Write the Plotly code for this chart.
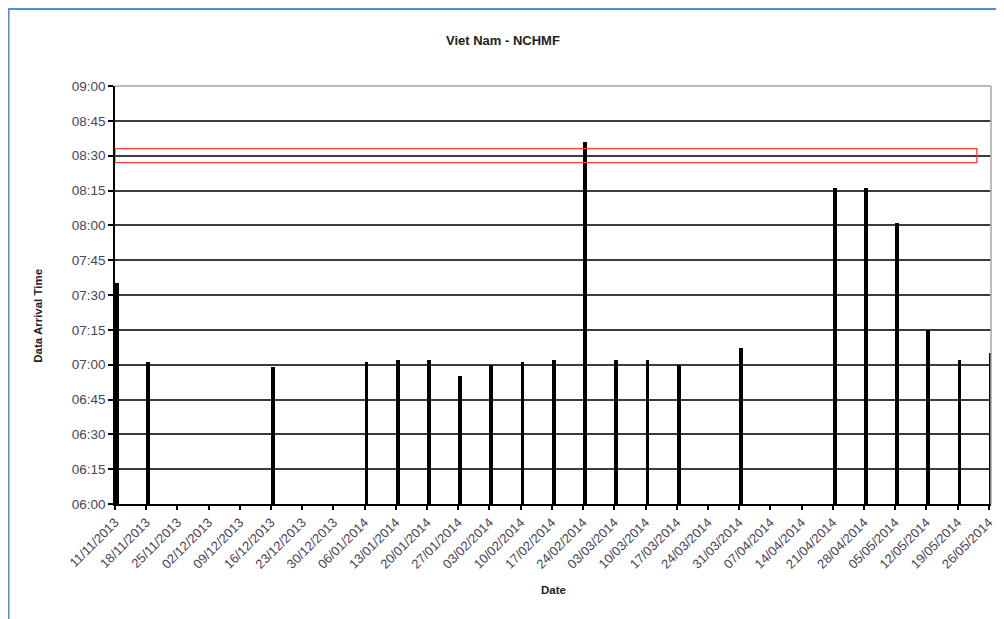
import plotly.graph_objects as go

# ---- data ----
dates = ["2013-11-11", "2013-11-18", "2013-12-16", "2014-01-06", "2014-01-13",
         "2014-01-20", "2014-01-27", "2014-02-03", "2014-02-10", "2014-02-17",
         "2014-02-24", "2014-03-03", "2014-03-10", "2014-03-17", "2014-03-31",
         "2014-04-21", "2014-04-28", "2014-05-05", "2014-05-12", "2014-05-19",
         "2014-05-26"]
arrival_times = ["07:35", "07:01", "06:59", "07:01", "07:02",
                 "07:02", "06:55", "07:00", "07:01", "07:02",
                 "08:36", "07:02", "07:02", "07:00", "07:07",
                 "08:16", "08:16", "08:01", "07:15", "07:02",
                 "07:05"]
y_tick_labels = ["06:00", "06:15", "06:30", "06:45", "07:00", "07:15", "07:30",
                 "07:45", "08:00", "08:15", "08:30", "08:45", "09:00"]
x_start, x_end = "2013-11-11", "2014-05-26 12:00"
target_band = ("08:27", "08:33")
target_band_end = "2014-05-23 08:00"

def to_hours(t):
    h, m = t.split(":")
    return int(h) + int(m) / 60.0

base_h = 6.0
hours = [to_hours(t) for t in arrival_times]
y_tick_vals = [to_hours(t) for t in y_tick_labels]
DAY_MS = 86400000

FONT = "Liberation Sans, Arial, sans-serif"

fig = go.Figure()
fig.add_trace(go.Bar(
    x=dates, y=[h - base_h for h in hours], base=base_h,
    width=0.85 * DAY_MS, offset=0,
    marker=dict(color="black", line=dict(width=0)),
    hovertext=arrival_times, hoverinfo="x+text",
))

shapes = [
    # target band rectangle
    dict(type="rect", xref="x", yref="y", x0=x_start, x1=target_band_end,
         y0=to_hours(target_band[0]), y1=to_hours(target_band[1]),
         line=dict(color="#ff3b3b", width=1.3), fillcolor="rgba(0,0,0,0)", layer="above"),
    # light top/right plot border
    dict(type="line", xref="paper", yref="paper", x0=0, x1=1, y0=1, y1=1,
         line=dict(color="#a6a6a6", width=1.5)),
    dict(type="line", xref="paper", yref="paper", x0=1, x1=1, y0=0, y1=1,
         line=dict(color="#a6a6a6", width=1.5)),
    # outer blue frame
    dict(type="rect", xref="paper", yref="paper", x0=-0.1215, x1=1.2, y0=-0.5, y1=1.184,
         line=dict(color="#5a8ad0", width=2), fillcolor="rgba(0,0,0,0)", layer="below"),
]

fig.update_layout(
    width=1004, height=619,
    margin=dict(l=107, r=21, t=78, b=123),
    paper_bgcolor="white", plot_bgcolor="white",
    showlegend=False, bargap=0,
    font=dict(family=FONT, size=12, color="#3a3a44"),
    shapes=shapes,
    annotations=[
        dict(text="<b>Viet Nam - NCHMF</b>", xref="paper", yref="paper",
             x=0.443, y=1.11, xanchor="center", yanchor="middle", showarrow=False,
             font=dict(family=FONT, size=13, color="#222")),
        dict(text="<b>Data Arrival Time</b>", xref="paper", yref="paper",
             x=-0.088, y=0.45, xanchor="center", yanchor="middle", showarrow=False,
             textangle=-90, font=dict(family=FONT, size=11.5, color="#222")),
        dict(text="<b>Date</b>", xref="paper", yref="paper",
             x=0.5, y=-0.206, xanchor="center", yanchor="middle", showarrow=False,
             font=dict(family=FONT, size=11.5, color="#222")),
    ],
    xaxis=dict(
        type="date", range=[x_start, x_end],
        tick0=x_start, dtick=7 * DAY_MS, tickformat="%d/%m/%Y",
        tickangle=-45, ticks="outside", ticklen=4, tickwidth=1.5, tickcolor="black",
        showgrid=False, zeroline=False,
        showline=True, linecolor="black", linewidth=1.5,
        tickfont=dict(family=FONT, size=13, color="#4a4458"),
    ),
    yaxis=dict(
        range=[base_h, 9.0], tickvals=y_tick_vals, ticktext=y_tick_labels,
        ticks="outside", ticklen=5, tickwidth=1.5, tickcolor="black",
        showgrid=True, gridcolor="#3c3c3c", gridwidth=1.5, zeroline=False,
        showline=True, linecolor="black", linewidth=1.5,
        tickfont=dict(family=FONT, size=13.5, color="#4a4458"),
    ),
)

fig.write_html("out.html")
